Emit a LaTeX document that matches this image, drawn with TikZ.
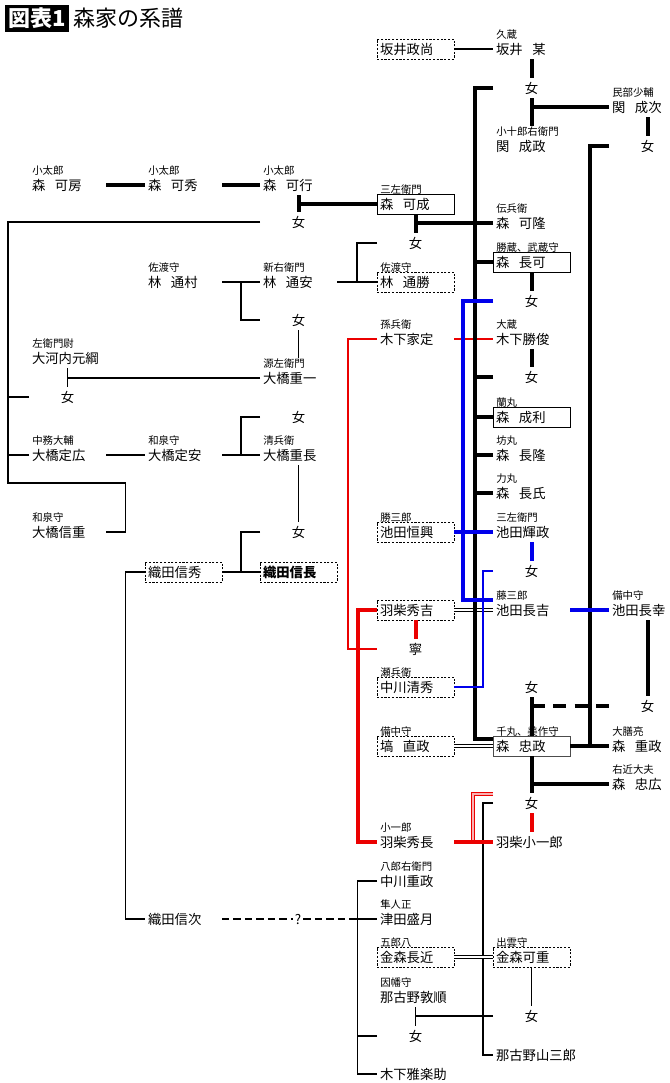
\documentclass[tikz,border=0pt]{standalone}
\usepackage{fontspec}
\setmainfont{Noto Sans CJK JP}
\usetikzlibrary{calc}
\definecolor{gblue}{RGB}{0,0,235}
\definecolor{gred}{RGB}{235,0,0}
\newcommand{\jsp}{\hspace{0.72em}}
\newcommand{\nmfont}{\fontsize{10pt}{12pt}\selectfont}
\newcommand{\lbfont}{\fontsize{7.8pt}{9pt}\selectfont}
\newcommand{\ttlfont}{\fontsize{16.5pt}{18pt}\selectfont}
\newcommand{\glab}[2]{\node[lb] (#1l) at ($(#1.west)+(3,-14.5)$) {#2};}
\begin{document}
\begin{tikzpicture}[x=0.75pt,y=-0.75pt,
  cell/.style={anchor=west, font=\nmfont, minimum width=57.75pt, text width=53.25pt,
    inner xsep=2.25pt, inner ysep=0pt, minimum height=15pt, align=left, outer sep=0pt},
  fcell/.style={cell, align=center},
  bx/.style={cell, draw, line width=0.7pt},
  dbx/.style={bx, dash pattern=on 1.6pt off 1.2pt},
  wcell/.style={anchor=west, font=\nmfont, inner xsep=2.25pt, inner ysep=0pt, minimum height=15pt, outer sep=0pt},
  lb/.style={anchor=west, font=\lbfont, inner sep=0pt},
  thn/.style={line width=0.9pt},
  thk/.style={line width=3pt},
  bthn/.style={line width=0.8pt, draw=gblue},
  bthk/.style={line width=3pt, draw=gblue},
  rthn/.style={line width=0.8pt, draw=gred},
  rthk/.style={line width=3pt, draw=gred},
  dbl/.style={line width=0.6pt, double=white, double distance=1.6pt},
  rdbl/.style={line width=0.7pt, draw=gred, double=gred!30, double distance=1.8pt},
  thkdash/.style={thk, dash pattern=on 9.75pt off 6.4pt},
  thndash/.style={thn, dash pattern=on 5.6pt off 3pt}
]
\useasboundingbox (0,0) rectangle (670,1083);

% title
\node[anchor=west, fill=black, text=white, font=\ttlfont\bfseries, inner xsep=2.5pt,
  inner ysep=0pt, minimum height=20.25pt] (ttl1) at (5,18.5) {図表1};
\node[anchor=west, font=\ttlfont, inner sep=0pt] (ttl2) at (73,18.5) {森家の系譜};

% people
\node[dbx] (sakaiM) at (377,49) {坂井政尚};
\node[cell] (sakaiB) at (493,49) {坂井\jsp 某}; \glab{sakaiB}{久蔵}
\node[fcell] (f1) at (493,88) {女};
\node[cell] (sekiN) at (609,107) {関\jsp 成次}; \glab{sekiN}{民部少輔}
\node[cell] (sekiM) at (493,146) {関\jsp 成政}; \glab{sekiM}{小十郎右衛門}
\node[fcell] (f2) at (609,146) {女};
\node[cell] (kabo) at (29,185) {森\jsp 可房}; \glab{kabo}{小太郎}
\node[cell] (kahide) at (145,185) {森\jsp 可秀}; \glab{kahide}{小太郎}
\node[cell] (kagyo) at (260,185) {森\jsp 可行}; \glab{kagyo}{小太郎}
\node[bx] (kanari) at (377,204) {森\jsp 可成}; \glab{kanari}{三左衛門}
\node[fcell] (f3) at (260,222) {女};
\node[cell] (kataka) at (493,223) {森\jsp 可隆}; \glab{kataka}{伝兵衛}
\node[fcell] (f4) at (377,243) {女};
\node[bx] (nagayoshi) at (493,262) {森\jsp 長可}; \glab{nagayoshi}{勝蔵、武蔵守}
\node[cell] (michimura) at (145,282) {林\jsp 通村}; \glab{michimura}{佐渡守}
\node[cell] (michiyasu) at (260,282) {林\jsp 通安}; \glab{michiyasu}{新右衛門}
\node[dbx] (michikatsu) at (377,282) {林\jsp 通勝}; \glab{michikatsu}{佐渡守}
\node[fcell] (f5) at (493,301) {女};
\node[fcell] (f6) at (260,320) {女};
\node[cell] (iesada) at (377,339) {木下家定}; \glab{iesada}{孫兵衛}
\node[cell] (katsutoshi) at (493,339) {木下勝俊}; \glab{katsutoshi}{大蔵}
\node[cell] (motomune) at (29,358) {大河内元綱}; \glab{motomune}{左衛門尉}
\node[cell] (shigekazu) at (260,378) {大橋重一}; \glab{shigekazu}{源左衛門}
\node[fcell] (f8) at (493,377) {女};
\node[fcell] (f7) at (29,397) {女};
\node[fcell] (f9) at (260,417) {女};
\node[bx] (naritoshi) at (493,417) {森\jsp 成利}; \glab{naritoshi}{蘭丸}
\node[cell] (sadahiro) at (29,455) {大橋定広}; \glab{sadahiro}{中務大輔}
\node[cell] (sadayasu) at (145,455) {大橋定安}; \glab{sadayasu}{和泉守}
\node[cell] (shigenaga) at (260,455) {大橋重長}; \glab{shigenaga}{清兵衛}
\node[cell] (nagataka) at (493,455) {森\jsp 長隆}; \glab{nagataka}{坊丸}
\node[cell] (nagauji) at (493,493) {森\jsp 長氏}; \glab{nagauji}{力丸}
\node[cell] (nobushige) at (29,532) {大橋信重}; \glab{nobushige}{和泉守}
\node[fcell] (f10) at (260,532) {女};
\node[dbx] (tsuneoki) at (377,532) {池田恒興}; \glab{tsuneoki}{勝三郎}
\node[cell] (terumasa) at (493,532) {池田輝政}; \glab{terumasa}{三左衛門}
\node[fcell] (f11) at (493,571) {女};
\node[dbx] (nobuhide) at (145,572) {織田信秀};
\node[dbx] (nobunaga) at (260,572) {\bfseries 織田信長};
\node[dbx] (hideyoshi) at (377,610) {羽柴秀吉};
\node[cell] (nagayoshiI) at (493,610) {池田長吉}; \glab{nagayoshiI}{藤三郎}
\node[cell] (nagayuki) at (609,610) {池田長幸}; \glab{nagayuki}{備中守}
\node[fcell] (nei) at (377,649) {寧};
\node[dbx] (kiyohide) at (377,687) {中川清秀}; \glab{kiyohide}{瀬兵衛}
\node[fcell] (f12) at (493,687) {女};
\node[fcell] (f13) at (609,706) {女};
\node[dbx] (naomasa) at (377,746) {塙\jsp 直政}; \glab{naomasa}{備中守}
\node[bx, draw=black!70] (tadamasa) at (493,746) {森\jsp 忠政}; \glab{tadamasa}{千丸、美作守}
\node[cell] (shigemasa) at (609,746) {森\jsp 重政}; \glab{shigemasa}{大膳亮}
\node[cell] (tadahiro) at (609,784) {森\jsp 忠広}; \glab{tadahiro}{右近大夫}
\node[fcell] (f14) at (493,803) {女};
\node[cell] (hidenaga) at (377,842) {羽柴秀長}; \glab{hidenaga}{小一郎}
\node[wcell] (koichiro) at (493,842) {羽柴小一郎};
\node[cell] (shigemasaN) at (377,881) {中川重政}; \glab{shigemasaN}{八郎右衛門}
\node[cell] (nobutsugu) at (145,919) {織田信次};
\node[cell] (morizuki) at (377,919) {津田盛月}; \glab{morizuki}{隼人正}
\node[dbx] (nagachika) at (377,957) {金森長近}; \glab{nagachika}{五郎八}
\node[dbx] (arishige) at (493,957) {金森可重}; \glab{arishige}{出雲守}
\node[cell] (atsuyori) at (377,997) {那古野敦順}; \glab{atsuyori}{因幡守}
\node[fcell] (f15) at (493,1016) {女};
\node[fcell] (f16) at (377,1036) {女};
\node[wcell] (sanzaburo) at (493,1055) {那古野山三郎};
\node[cell] (gakunosuke) at (377,1074) {木下雅楽助};
\node[inner sep=1.5pt, font=\nmfont] (qm) at (298,919) {?};

% column coordinates
\coordinate (xA) at (475,0);
\coordinate (xB) at (590,0);
\coordinate (xL) at (8,0);
\coordinate (xM) at (125.5,0);
\coordinate (yB) at (0,483);
\coordinate (xN) at (357.5,0);
\coordinate (xP) at (483,0);
\coordinate (xBl) at (463,0);
\coordinate (xRt) at (348,0);
\coordinate (xRD) at (473,0);
\coordinate (rdtop) at ($(f14.west)+(0,-9)$);

% thin black connectors
\draw[thn] (sakaiM.east) -- (sakaiB.west);
\draw[thn] (f3.west) -| (xL |- yB) -| (xM |- nobushige.east) -- (nobushige.east);
\draw[thn] (f7.west) -- (f7.west -| xL);
\draw[thn] (sadahiro.west) -- (sadahiro.west -| xL);
\draw[thn] (michimura.east) -- (michiyasu.west);
\draw[thn] ($(michimura.east)!.5!(michiyasu.west)$) |- (f6.west);
\draw[thn] (michiyasu.east) -- (michikatsu.west);
\draw[thn] (f4.west) -| ($(michiyasu.east)!.5!(michikatsu.west)$);
\draw[thn] (f6.south) -- (shigekazul.north -| f6);
\draw[thn] (motomune.south) -- (f7.north);
\draw[thn] (shigekazu.west) -- (shigekazu.west -| f7);
\draw[thn] (sadahiro.east) -- (sadayasu.west);
\draw[thn] (sadayasu.east) -- (shigenaga.west);
\draw[thn] (f9.west) -| ($(sadayasu.east)!.5!(shigenaga.west)$);
\draw[thn] (shigenaga.south) -- (f10.north);
\draw[thn] (nobuhide.east) -- (nobunaga.west);
\draw[thn] (f10.west) -| ($(nobuhide.east)!.5!(nobunaga.west)$);
\draw[thn] (nobuhide.west) -| (xM |- nobutsugu.west) -- (nobutsugu.west);
\draw[thndash] (nobutsugu.east) -- (qm.west);
\draw[thndash] (qm.east) -- (qm.east -| xN);
\draw[thn] (qm.east -| xN) -- (morizuki.west);
\draw[thn] (shigemasaN.west) -| (xN |- gakunosuke.west) -- (gakunosuke.west);
\draw[thn] (f16.west) -- (f16.west -| xN);
\draw[thn] (atsuyori.south) -- (f16.north);
\draw[thn] (f15.west) -- (f15.west -| f16);
\draw[thn] (arishige.south) -- (f15.north);
\draw[thn] (f14.west) -| (xP |- sanzaburo.west) -- (sanzaburo.west);

% double lines
\draw[dbl] (shigekazu.south) -- (f9.north);
\draw[dbl] (hideyoshi.east) -- (nagayoshiI.west);
\draw[dbl] (naomasa.east) -- (tadamasa.west);
\draw[dbl] (nagachika.east) -- (arishige.west);
\draw[rdbl] (rdtop) -| (xRD |- koichiro.west);

% thin red
\draw[rthn] (iesada.west) -| (xRt |- nei.west) -- (nei.west);
\draw[rthn] (iesada.east) -- (katsutoshi.west);

% thick black
\draw[thk] (sakaiB.south) -- (f1.north);
\draw[thk] (f1.south) -- (sekiMl.north -| f1);
\draw[thk] (sekiN.west) -- (sekiN.west -| f1);
\draw[thk] (sekiN.south) -- (f2.north);
\draw[thk] (kabo.east) -- (kahide.west);
\draw[thk] (kahide.east) -- (kagyo.west);
\draw[thk] (kagyo.south) -- (f3.north);
\draw[thk] (kanari.west) -- (kanari.west -| f3);
\draw[thk] (kanari.south) -- (f4.north);
\draw[thk] (kataka.west) -- (kataka.west -| f4);
\draw[thk] (f1.west) -- (f1.west -| xA) |- ([yshift=-2.5pt]tadamasa.north west);
\draw[thk] (nagayoshi.west) -- (nagayoshi.west -| xA);
\draw[thk] (f8.west) -- (f8.west -| xA);
\draw[thk] (naritoshi.west) -- (naritoshi.west -| xA);
\draw[thk] (nagataka.west) -- (nagataka.west -| xA);
\draw[thk] (nagauji.west) -- (nagauji.west -| xA);
\draw[thk] (nagayoshi.south) -- (f5.north);
\draw[thk] (katsutoshi.south) -- (f8.north);
\draw[thk] (f2.west) -- (f2.west -| xB) -- (shigemasa.west -| xB);
\draw[thk] (tadamasa.east) -- (shigemasa.west);
\draw[thk] (f12.south) -- (tadamasa.north);
\draw[thkdash] (f13.west -| f12) -- (f13.west);
\draw[thk] (nagayuki.south) -- (f13.north);
\draw[thk] (tadamasa.south) -- (f14.north);
\draw[thk] (tadahiro.west) -- (tadahiro.west -| tadamasa);

% blue
\draw[bthk] (f5.west) -| (xBl |- nagayoshiI.north west) -- (nagayoshiI.north west);
\draw[bthk] (tsuneoki.east) -- (terumasa.west);
\draw[bthk] (terumasa.south) -- (f11.north);
\draw[bthk] (nagayoshiI.east) -- (nagayuki.west);
\draw[bthn] (f11.west) -| (xP |- kiyohide.east) -- (kiyohide.east);

% thick red
\draw[rthk] (hideyoshi.west) -| (xN |- hidenaga.west) -- (hidenaga.west);
\draw[rthk] (hideyoshi.south) -- (nei.north);
\draw[rthk] (hidenaga.east) -- (koichiro.west);
\draw[rthk] (f14.south) -- (koichiro.north -| f14);
\end{tikzpicture}
\end{document}
